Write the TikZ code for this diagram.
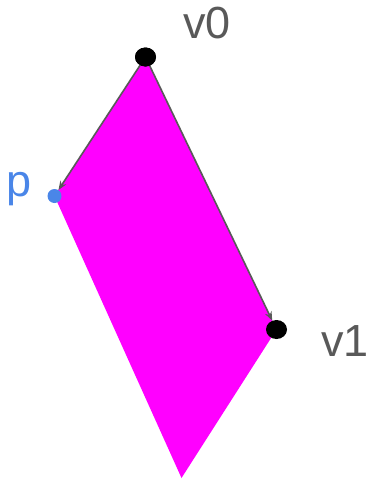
\documentclass[tikz,border=0pt]{standalone}
\usepackage{fontspec}
\setmainfont{Liberation Sans}
\usetikzlibrary{arrows.meta,shapes.geometric}
\definecolor{lblgray}{HTML}{595959}
\definecolor{pblue}{HTML}{4A86E8}
\definecolor{fillmag}{HTML}{FF00FF}
\tikzset{
  vdot/.style={draw=none,fill=black,ellipse,minimum width=21pt,minimum height=19pt,inner sep=0pt},
  pdot/.style={draw=none,fill=pblue,circle,minimum size=14pt,inner sep=0pt},
  lbl/.style={font=\fontsize{45}{45}\selectfont,text=lblgray,inner sep=0pt,anchor=base west},
  vecarrow/.style={draw=lblgray,line width=1.6pt,-{Stealth[length=9pt,width=7pt]}}
}
\begin{document}
\begin{tikzpicture}[x=1pt,y=-1pt]
\useasboundingbox (0,0) rectangle (366,480);
\coordinate (A) at (145.5,57);
\coordinate (B) at (54.5,196);
\coordinate (C) at (181.5,478);
\coordinate (D) at (276.5,329.5);
\fill[fillmag] (A) -- (B) -- (C) -- (D) -- cycle;
\node[vdot] (v0) at (A) {};
\node[vdot] (v1) at (D) {};
\node[pdot] (p) at (B) {};
\draw[vecarrow] (v0.center) -- (p);
\draw[vecarrow] (v0.center) -- (v1);
\node[vdot] at (A) {};
\node[lbl] (l0) at (183,38) {v0};
\node[lbl] (l1) at (321,356.5) {v1};
\node[lbl,text=pblue] (lp) at (6,196) {p};
\end{tikzpicture}
\end{document}
